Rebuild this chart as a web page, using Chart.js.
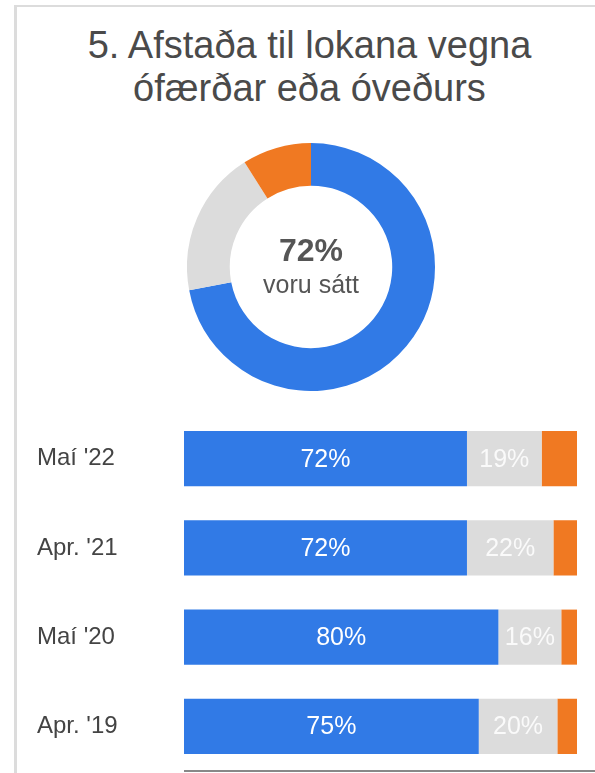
<!DOCTYPE html>
<html>
<head>
<meta charset="utf-8">
<script src="https://cdn.jsdelivr.net/npm/chart.js@4"></script>
<style>
  body { margin: 0; width: 595px; height: 773px; overflow: hidden; background: #fff; font-family: "Liberation Sans", Arial, sans-serif; }
  #frame { position: absolute; left: 14px; top: 5px; right: 0; bottom: 0; border-left: 3px solid #dcdcdc; border-top: 2px solid #dcdcdc; }
  #title { position: absolute; left: 8px; right: -16px; top: 24px; text-align: center; font-size: 38px; line-height: 43px; color: #4a4a4a; }
  #donut { position: absolute; left: 187px; top: 143px; }
  #bars { position: absolute; left: 0; top: 414px; }
</style>
</head>
<body>
<div id="frame"></div>
<div id="title">5. Afstaða til lokana vegna<br>ófærðar eða óveðurs</div>
<canvas id="donut" width="248" height="248"></canvas>
<canvas id="bars" width="595" height="359"></canvas>
<script>
const colors = ["#317ae6", "#dcdcdc", "#f07922"];

const donutLabels = ["Sátt", "Hlutlaus", "Ósátt"];
const donutValues = [72, 19, 9];

const years = ["Maí '22", "Apr. '21", "Maí '20", "Apr. '19"];
const satisfied = [72, 72, 80, 75];
const neutral = [19, 22, 16, 20];
const dissatisfied = [9, 6, 4, 5];

const fontFamily = "'Liberation Sans', Arial, sans-serif";

const centerText = {
  id: "centerText",
  afterDraw(chart) {
    const { ctx, chartArea } = chart;
    const cx = (chartArea.left + chartArea.right) / 2;
    const cy = (chartArea.top + chartArea.bottom) / 2;
    ctx.save();
    ctx.fillStyle = "#555";
    ctx.textAlign = "center";
    ctx.textBaseline = "alphabetic";
    ctx.font = "bold 32px " + fontFamily;
    ctx.fillText(donutValues[0] + "%", cx, cy - 6);
    ctx.font = "25px " + fontFamily;
    ctx.fillText("voru sátt", cx, cy + 26);
    ctx.restore();
  }
};

new Chart(document.getElementById("donut"), {
  type: "doughnut",
  data: {
    labels: donutLabels,
    datasets: [{ data: donutValues, backgroundColor: colors, borderWidth: 0 }]
  },
  options: {
    responsive: false,
    animation: false,
    cutout: "65.5%",
    plugins: { legend: { display: false }, tooltip: { enabled: false } }
  },
  plugins: [centerText]
});

const barLabels = {
  id: "barLabels",
  afterDatasetsDraw(chart) {
    const { ctx } = chart;
    ctx.save();
    ctx.textAlign = "center";
    ctx.textBaseline = "middle";
    ctx.font = "25px " + fontFamily;
    [0, 1].forEach(di => {
      const meta = chart.getDatasetMeta(di);
      ctx.fillStyle = di === 0 ? "#ffffff" : "rgba(255,255,255,0.85)";
      meta.data.forEach((bar, i) => {
        const v = chart.data.datasets[di].data[i];
        ctx.fillText(v + "%", (bar.base + bar.x) / 2, bar.y + 1);
      });
    });
    // axis line along the bottom
    const a = chart.chartArea;
    ctx.strokeStyle = "#888";
    ctx.lineWidth = 2;
    ctx.beginPath();
    ctx.moveTo(a.left, a.bottom);
    ctx.lineTo(chart.width, a.bottom);
    ctx.stroke();
    ctx.restore();
  }
};

new Chart(document.getElementById("bars"), {
  type: "bar",
  data: {
    labels: years,
    datasets: [
      { label: "Sátt", data: satisfied, backgroundColor: colors[0] },
      { label: "Hlutlaus", data: neutral, backgroundColor: colors[1] },
      { label: "Ósátt", data: dissatisfied, backgroundColor: colors[2] }
    ]
  },
  options: {
    indexAxis: "y",
    responsive: false,
    animation: false,
    layout: { padding: { left: 37, right: 18, top: 0, bottom: 2 } },
    datasets: { bar: { barPercentage: 0.617, categoryPercentage: 1, borderWidth: 0 } },
    scales: {
      x: { stacked: true, min: 0, max: 100, display: false },
      y: {
        stacked: true,
        grid: { display: false },
        border: { display: false },
        ticks: { color: "#444", font: { size: 24, family: fontFamily }, crossAlign: "far", padding: 0 },
        afterFit(scale) {
          scale.width = 147;
          scale.paddingTop = 0;
          scale.paddingBottom = 0;
        }
      }
    },
    plugins: { legend: { display: false }, tooltip: { enabled: false } }
  },
  plugins: [barLabels]
});
</script>
</body>
</html>
